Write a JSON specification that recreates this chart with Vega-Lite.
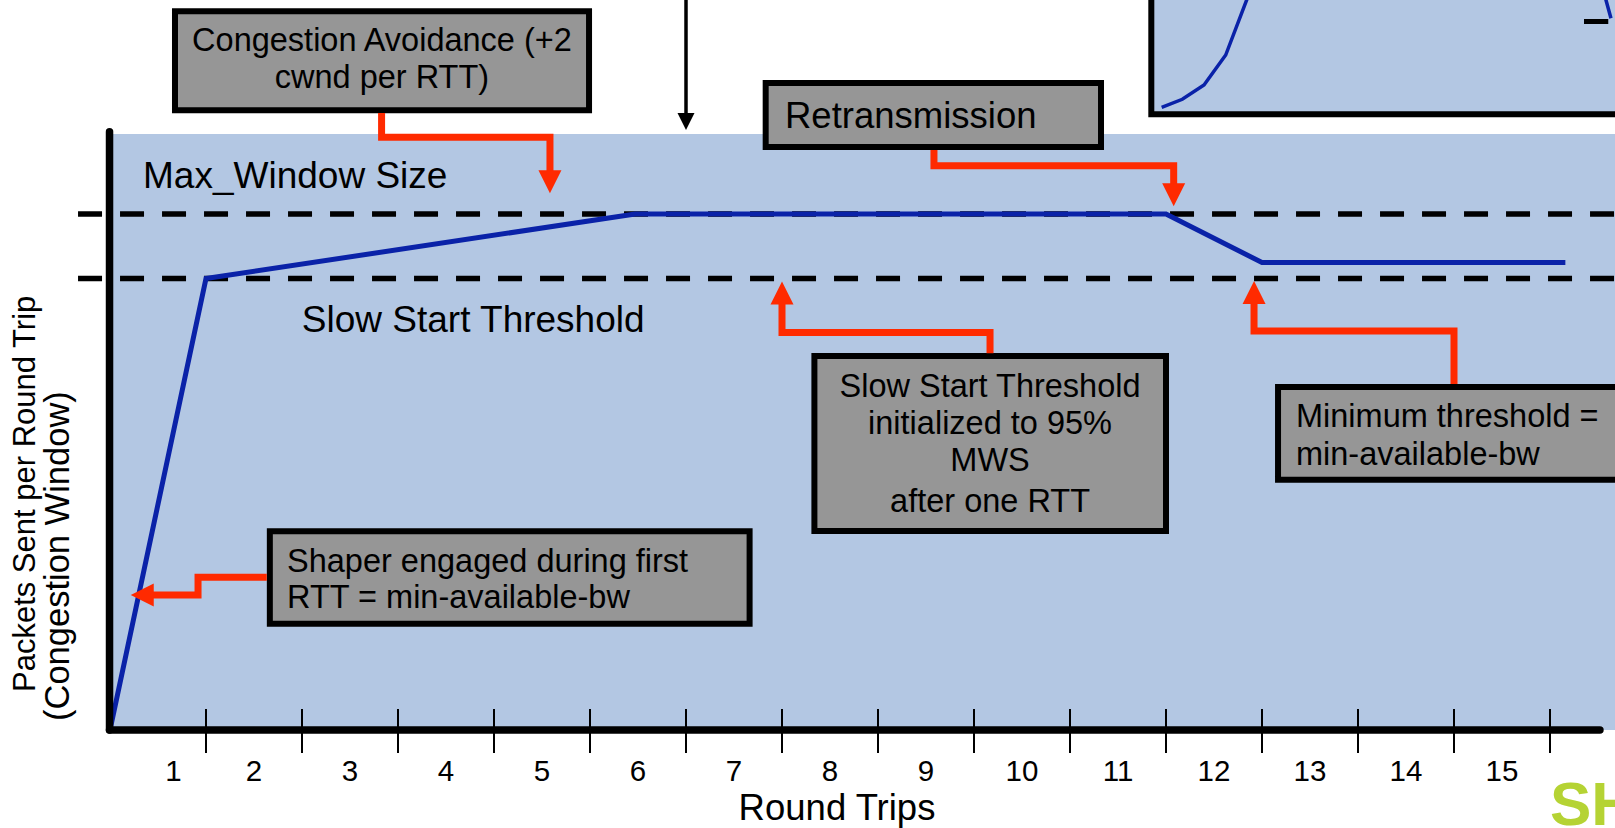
{
  "$schema": "https://vega.github.io/schema/vega-lite/v6.json",
  "width": 1615,
  "height": 828,
  "autosize": {"type": "fit", "contains": "padding"},
  "padding": 0,
  "background": "#ffffff",
  "config": {"view": {"stroke": null}, "text": {"font": "Liberation Sans", "color": "#000000"}},
  "datasets": {
    "plotArea": [{"x": -0.01, "x2": 16, "y": 0, "y2": 115.5}],
    "insetFrame": [{"x": 10.847, "x2": 16.5, "y": 119.32, "y2": 150}],
    "insetCurve": [
      {"id": "a", "i": 1, "x": 10.955, "y": 120.68},
      {"id": "a", "i": 2, "x": 11.17, "y": 122.23},
      {"id": "a", "i": 3, "x": 11.396, "y": 125.0},
      {"id": "a", "i": 4, "x": 11.622, "y": 130.81},
      {"id": "a", "i": 5, "x": 11.86, "y": 142.44},
      {"id": "b", "i": 1, "x": 15.635, "y": 137.93},
      {"id": "b", "i": 2, "x": 15.583, "y": 141.47},
      {"id": "b", "i": 3, "x": 15.573, "y": 142.44}
    ],
    "insetTick": [{"x": 15.354, "x2": 15.607, "y": 137.31}],
    "levels": [
      {"level": "Max_Window Size", "x": -0.333, "x2": 16, "y": 100},
      {"level": "Slow Start Threshold", "x": -0.333, "x2": 16, "y": 87.5}
    ],
    "cwnd": [
      {"x": 0, "y": 0},
      {"x": 1, "y": 87.5},
      {"x": 5.47, "y": 100},
      {"x": 11, "y": 100},
      {"x": 12, "y": 90.6},
      {"x": 15.16, "y": 90.6}
    ],
    "axes": [
      {"axis": "y", "x": -0.005, "x2": -0.005, "y": 0, "y2": 115.95},
      {"axis": "x", "x": -0.005, "x2": 15.52, "y": 0, "y2": 0}
    ],
    "ticks": [
      {"x": 1, "y": -4.46, "y2": 4.07}, {"x": 2, "y": -4.46, "y2": 4.07}, {"x": 3, "y": -4.46, "y2": 4.07},
      {"x": 4, "y": -4.46, "y2": 4.07}, {"x": 5, "y": -4.46, "y2": 4.07}, {"x": 6, "y": -4.46, "y2": 4.07},
      {"x": 7, "y": -4.46, "y2": 4.07}, {"x": 8, "y": -4.46, "y2": 4.07}, {"x": 9, "y": -4.46, "y2": 4.07},
      {"x": 10, "y": -4.46, "y2": 4.07}, {"x": 11, "y": -4.46, "y2": 4.07}, {"x": 12, "y": -4.46, "y2": 4.07},
      {"x": 13, "y": -4.46, "y2": 4.07}, {"x": 14, "y": -4.46, "y2": 4.07}, {"x": 15, "y": -4.46, "y2": 4.07}
    ],
    "tickLabels": [
      {"text": "1", "x": 0.66, "y": -9.9}, {"text": "2", "x": 1.5, "y": -9.9}, {"text": "3", "x": 2.5, "y": -9.9},
      {"text": "4", "x": 3.5, "y": -9.9}, {"text": "5", "x": 4.5, "y": -9.9}, {"text": "6", "x": 5.5, "y": -9.9},
      {"text": "7", "x": 6.5, "y": -9.9}, {"text": "8", "x": 7.5, "y": -9.9}, {"text": "9", "x": 8.5, "y": -9.9},
      {"text": "10", "x": 9.5, "y": -9.9}, {"text": "11", "x": 10.5, "y": -9.9}, {"text": "12", "x": 11.5, "y": -9.9},
      {"text": "13", "x": 12.5, "y": -9.9}, {"text": "14", "x": 13.5, "y": -9.9}, {"text": "15", "x": 14.5, "y": -9.9}
    ],
    "arrows": [
      {"id": "A", "i": 1, "x": 2.829, "y": 119.57}, {"id": "A", "i": 2, "x": 2.829, "y": 114.86},
      {"id": "A", "i": 3, "x": 4.583, "y": 114.86}, {"id": "A", "i": 4, "x": 4.583, "y": 108.14},
      {"id": "B", "i": 1, "x": 8.583, "y": 112.4}, {"id": "B", "i": 2, "x": 8.583, "y": 109.36},
      {"id": "B", "i": 3, "x": 11.08, "y": 109.36}, {"id": "B", "i": 4, "x": 11.08, "y": 105.62},
      {"id": "C", "i": 1, "x": 9.167, "y": 73.0}, {"id": "C", "i": 2, "x": 9.167, "y": 77.03},
      {"id": "C", "i": 3, "x": 7.0, "y": 77.03}, {"id": "C", "i": 4, "x": 7.0, "y": 83.33},
      {"id": "D", "i": 1, "x": 14.0, "y": 67.05}, {"id": "D", "i": 2, "x": 14.0, "y": 77.33},
      {"id": "D", "i": 3, "x": 11.917, "y": 77.33}, {"id": "D", "i": 4, "x": 11.917, "y": 83.33},
      {"id": "E", "i": 1, "x": 1.633, "y": 29.59}, {"id": "E", "i": 2, "x": 0.917, "y": 29.59},
      {"id": "E", "i": 3, "x": 0.917, "y": 26.16}, {"id": "E", "i": 4, "x": 0.417, "y": 26.16}
    ],
    "heads": [
      {"id": "A", "dir": "down", "x": 4.583, "y": 106.26},
      {"id": "B", "dir": "down", "x": 11.08, "y": 103.74},
      {"id": "C", "dir": "up", "x": 7.0, "y": 84.69},
      {"id": "D", "dir": "up", "x": 11.917, "y": 84.79},
      {"id": "E", "dir": "left", "x": 0.336, "y": 26.16}
    ],
    "topArrow": [{"x": 6.0, "y": 119.19, "y2": 142.5}],
    "topHead": [{"dir": "down", "x": 6.0, "y": 117.93}],
    "boxes": [
      {"box": "Congestion Avoidance", "x": 0.677, "x2": 4.99, "y": 120.1, "y2": 139.28},
      {"box": "Retransmission", "x": 6.83, "x2": 10.323, "y": 112.98, "y2": 125.39},
      {"box": "Slow Start Threshold", "x": 7.3375, "x2": 11.0, "y": 38.57, "y2": 72.48},
      {"box": "Minimum threshold", "x": 12.167, "x2": 16.5, "y": 48.51, "y2": 66.47},
      {"box": "Shaper", "x": 1.665, "x2": 6.6625, "y": 20.6, "y2": 38.51}
    ],
    "boxTextCenter": [
      {"text": "Congestion Avoidance (+2", "x": 2.833, "y": 131.61},
      {"text": "cwnd per RTT)", "x": 2.833, "y": 124.36},
      {"text": "Slow Start Threshold", "x": 9.167, "y": 64.61},
      {"text": "initialized to 95%", "x": 9.167, "y": 57.31},
      {"text": "MWS", "x": 9.167, "y": 50.19},
      {"text": "after one RTT", "x": 9.167, "y": 42.31}
    ],
    "boxTextLeft": [
      {"text": "Minimum threshold =", "x": 12.354, "y": 58.72},
      {"text": "min-available-bw", "x": 12.354, "y": 51.45},
      {"text": "Shaper engaged during first", "x": 1.844, "y": 30.68},
      {"text": "RTT = min-available-bw", "x": 1.844, "y": 23.58}
    ],
    "retrText": [{"text": "Retransmission", "x": 7.031, "y": 116.76}],
    "levelText": [
      {"text": "Max_Window Size", "x": 0.344, "y": 105.1},
      {"text": "Slow Start Threshold", "x": 1.998, "y": 77.19}
    ],
    "xTitle": [{"text": "Round Trips", "x": 7.573, "y": -17.4}],
    "yTitle": [
      {"text": "Packets Sent per Round Trip", "fs": "a", "x": -0.781, "y": 7.36},
      {"text": "(Congestion Window)", "fs": "b", "x": -0.427, "y": 1.74}
    ],
    "logo": [{"text": "SH", "x": 15.0, "y": -18.41}]
  },
  "encoding": {
    "x": {"field": "x", "type": "quantitative", "scale": {"domain": [-1.14583, 15.67708], "nice": false, "zero": false}, "axis": null},
    "y": {"field": "y", "type": "quantitative", "scale": {"domain": [-18.992, 141.473], "nice": false, "zero": false}, "axis": null}
  },
  "layer": [
    {"data": {"name": "plotArea"}, "mark": {"type": "rect", "fill": "#B3C7E3", "clip": true},
     "encoding": {"x2": {"field": "x2"}, "y2": {"field": "y2"}}},
    {"data": {"name": "insetFrame"}, "mark": {"type": "rect", "fill": "#B3C7E3", "stroke": "#000000", "strokeWidth": 6, "clip": true},
     "encoding": {"x2": {"field": "x2"}, "y2": {"field": "y2"}}},
    {"data": {"name": "insetCurve"}, "mark": {"type": "line", "color": "#0A22A8", "strokeWidth": 3.5, "clip": true},
     "encoding": {"detail": {"field": "id"}, "order": {"field": "i", "type": "quantitative"}}},
    {"data": {"name": "insetTick"}, "mark": {"type": "rule", "color": "#000000", "strokeWidth": 5, "clip": true},
     "encoding": {"x2": {"field": "x2"}}},
    {"data": {"name": "levels"}, "mark": {"type": "rule", "color": "#000000", "strokeWidth": 5.5, "strokeDash": [24, 18], "clip": true},
     "encoding": {"x2": {"field": "x2"}}},
    {"data": {"name": "cwnd"}, "mark": {"type": "line", "color": "#0A22A8", "strokeWidth": 5, "strokeJoin": "miter", "clip": true},
     "encoding": {}},
    {"data": {"name": "axes"}, "mark": {"type": "rule", "color": "#000000", "strokeWidth": 7.5, "strokeCap": "round", "clip": true},
     "encoding": {"x2": {"field": "x2"}, "y2": {"field": "y2"}}},
    {"data": {"name": "ticks"}, "mark": {"type": "rule", "color": "#000000", "strokeWidth": 2, "clip": true},
     "encoding": {"y2": {"field": "y2"}}},
    {"data": {"name": "tickLabels"}, "mark": {"type": "text", "fontSize": 29.5, "align": "center", "baseline": "alphabetic", "clip": true},
     "encoding": {"text": {"field": "text"}}},
    {"data": {"name": "topArrow"}, "mark": {"type": "rule", "color": "#000000", "strokeWidth": 3.5, "clip": true},
     "encoding": {"y2": {"field": "y2"}}},
    {"data": {"name": "topHead"}, "mark": {"type": "point", "filled": true, "color": "#000000", "opacity": 1, "strokeWidth": 0, "size": 289, "clip": true},
     "encoding": {"shape": {"field": "dir", "type": "nominal", "scale": {"domain": ["down", "up", "left"], "range": ["M-1,-1L1,-1L0,1Z", "M-1,1L1,1L0,-1Z", "M1,-1L1,1L-1,0Z"]}, "legend": null}}},
    {"data": {"name": "boxes"}, "mark": {"type": "rect", "fill": "#969696", "stroke": "#000000", "strokeWidth": 6, "clip": true},
     "encoding": {"x2": {"field": "x2"}, "y2": {"field": "y2"}}},
    {"data": {"name": "arrows"}, "mark": {"type": "line", "color": "#FF2A00", "strokeWidth": 7, "strokeJoin": "miter", "strokeCap": "butt", "clip": true},
     "encoding": {"detail": {"field": "id"}, "order": {"field": "i", "type": "quantitative"}}},
    {"data": {"name": "heads"}, "mark": {"type": "point", "filled": true, "color": "#FF2A00", "opacity": 1, "strokeWidth": 0, "size": 529, "clip": true},
     "encoding": {"shape": {"field": "dir", "type": "nominal", "scale": {"domain": ["down", "up", "left"], "range": ["M-1,-1L1,-1L0,1Z", "M-1,1L1,1L0,-1Z", "M1,-1L1,1L-1,0Z"]}, "legend": null}}},
    {"data": {"name": "boxTextCenter"}, "mark": {"type": "text", "fontSize": 32.5, "align": "center", "baseline": "alphabetic", "clip": true},
     "encoding": {"text": {"field": "text"}}},
    {"data": {"name": "boxTextLeft"}, "mark": {"type": "text", "fontSize": 32.5, "align": "left", "baseline": "alphabetic", "clip": true},
     "encoding": {"text": {"field": "text"}}},
    {"data": {"name": "retrText"}, "mark": {"type": "text", "fontSize": 36.5, "align": "left", "baseline": "alphabetic", "clip": true},
     "encoding": {"text": {"field": "text"}}},
    {"data": {"name": "levelText"}, "mark": {"type": "text", "fontSize": 37, "align": "left", "baseline": "alphabetic", "clip": true},
     "encoding": {"text": {"field": "text"}}},
    {"data": {"name": "xTitle"}, "mark": {"type": "text", "fontSize": 36.5, "align": "center", "baseline": "alphabetic", "clip": true},
     "encoding": {"text": {"field": "text"}}},
    {"data": {"name": "yTitle"}, "transform": [{"filter": "datum.fs === 'a'"}], "mark": {"type": "text", "fontSize": 31, "align": "left", "baseline": "alphabetic", "angle": 270, "clip": true},
     "encoding": {"text": {"field": "text"}}},
    {"data": {"name": "yTitle"}, "transform": [{"filter": "datum.fs === 'b'"}], "mark": {"type": "text", "fontSize": 34.5, "align": "left", "baseline": "alphabetic", "angle": 270, "clip": true},
     "encoding": {"text": {"field": "text"}}},
    {"data": {"name": "logo"}, "mark": {"type": "text", "fontSize": 62, "fontWeight": "bold", "font": "Liberation Sans Narrow, Liberation Sans", "color": "#B5D334", "align": "left", "baseline": "alphabetic", "clip": true},
     "encoding": {"text": {"field": "text"}}}
  ]
}
